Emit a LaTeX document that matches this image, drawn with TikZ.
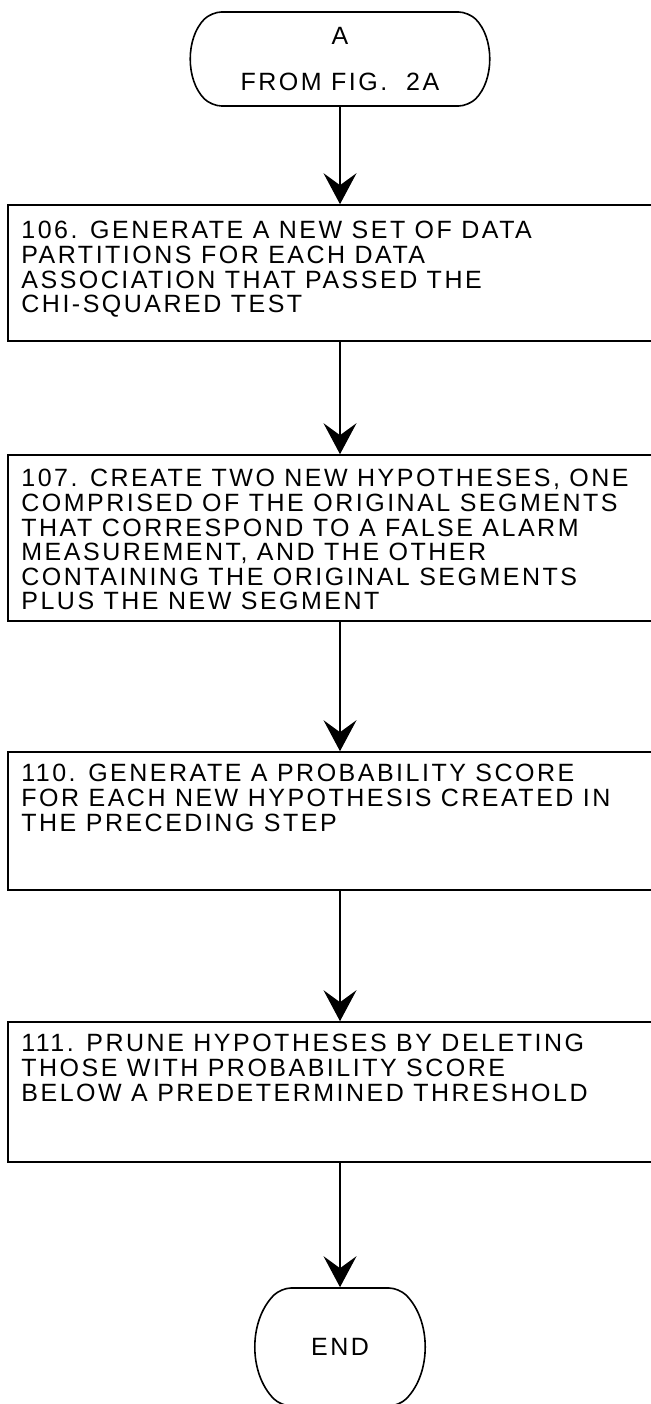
\documentclass[tikz,border=0pt]{standalone}
\usepackage{fontspec}
\setmainfont{Liberation Sans}[LetterSpace=10]
\usetikzlibrary{shapes.misc, arrows.meta, positioning}

\begin{document}
\begin{tikzpicture}[x=1pt, y=-1pt,
    every node/.style={font=\fontsize{25}{24.6}\selectfont},
    term/.style={rounded rectangle, rounded rectangle arc length=90, draw, line width=1.6pt, inner sep=0pt, align=center, rounded corners=10pt},
    stepbox/.style={rectangle, draw, line width=1.6pt, minimum width=664pt, inner sep=0pt},
    steptext/.style={anchor=north west, inner sep=0pt, align=left},
    arrow/.style={line width=1.6pt, -{Stealth[length=31pt, width=33pt, inset=12pt]}}
]
\useasboundingbox (0,0) rectangle (650,1404);

% Start terminal
\node[term, minimum width=296pt, minimum height=94pt] (start) at (340,59) {A\\[22pt]FROM FIG.\ \ 2A};

% Steps
\node[stepbox, minimum height=136pt] (b106) at (340,273) {};
\node[steptext] (t106) at ([shift={(14,17)}]b106.north west) {106. GENERATE A NEW SET OF DATA\\PARTITIONS FOR EACH DATA\\ASSOCIATION THAT PASSED THE\\CHI-SQUARED TEST};

\node[stepbox, minimum height=166pt] (b107) at (340,538) {};
\node[steptext] (t107) at ([shift={(14,15)}]b107.north west) {107. CREATE TWO NEW HYPOTHESES, ONE\\COMPRISED OF THE ORIGINAL SEGMENTS\\THAT CORRESPOND TO A FALSE ALARM\\MEASUREMENT, AND THE OTHER\\CONTAINING THE ORIGINAL SEGMENTS\\PLUS THE NEW SEGMENT};

\node[stepbox, minimum height=138pt] (b110) at (340,821) {};
\node[steptext] (t110) at ([shift={(14,13)}]b110.north west) {110. GENERATE A PROBABILITY SCORE\\FOR EACH NEW HYPOTHESIS CREATED IN\\THE PRECEDING STEP};

\node[stepbox, minimum height=140pt] (b111) at (340,1092) {};
\node[steptext] (t111) at ([shift={(14,13)}]b111.north west) {111. PRUNE HYPOTHESES BY DELETING\\THOSE WITH PROBABILITY SCORE\\BELOW A PREDETERMINED THRESHOLD};

% End terminal
\node[term, minimum width=154pt, minimum height=118pt] (end) at (340,1347) {END};

% Connections
\draw[arrow] (start) -- (b106);
\draw[arrow] (b106) -- (b107);
\draw[arrow] (b107) -- (b110);
\draw[arrow] (b110) -- (b111);
\draw[arrow] (b111) -- (end);

\end{tikzpicture}
\end{document}
